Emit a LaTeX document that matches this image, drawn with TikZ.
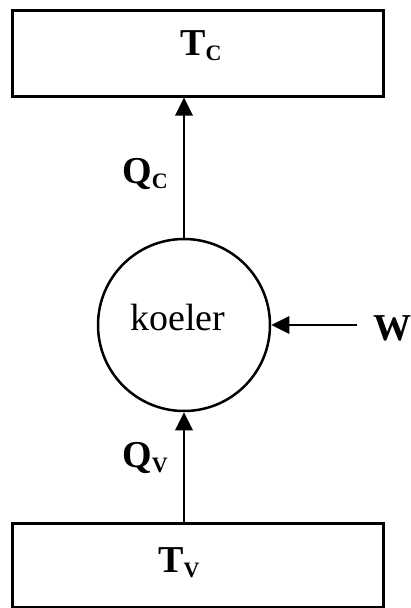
\documentclass[tikz,border=0pt]{standalone}
\usepackage{fontspec}
\setmainfont{Liberation Serif}
\usetikzlibrary{arrows.meta}
\newcommand\mysub[1]{\raisebox{-5pt}{\fontsize{22}{22}\selectfont\bfseries #1}}
\tikzset{
  res/.style={draw, line width=3pt, minimum width=371pt, inner sep=0pt},
  lbl/.style={anchor=base west, inner sep=0pt, font=\fontsize{38}{38}\selectfont\bfseries},
  flow/.style={line width=2.8pt, -{Triangle[length=18pt,width=17pt]}},
}
\begin{document}
\begin{tikzpicture}[x=1pt,y=-1pt]
\useasboundingbox (0,0) rectangle (411,608);
\fill[white] (0,0) rectangle (411,608);
\node[res, minimum height=86pt] (top) at (197.5,53) {};
\node[res, minimum height=84pt] (bot) at (197.5,565) {};
\node[draw, circle, line width=2.5pt, minimum size=172pt, inner sep=0pt] (c) at (184,325) {};
\node[anchor=base west, inner sep=0pt, font=\fontsize{38}{38}\selectfont] (k) at (130,330) {koeler};
\node[lbl] (tc) at (180,55) {T\mysub{C}};
\node[lbl] (tv) at (158,572) {T\mysub{V}};
\node[lbl] (qc) at (122,183) {Q\mysub{C}};
\node[lbl] (qv) at (122,467) {Q\mysub{V}};
\node[lbl] (w) at (373,340) {W};
\coordinate (ws) at (357,325);
\draw[flow] (c.north) -- (c.north |- top.south);
\draw[flow] (c.south |- bot.north) -- (c.south);
\draw[flow] (ws) -- (c.east);
\end{tikzpicture}
\end{document}
